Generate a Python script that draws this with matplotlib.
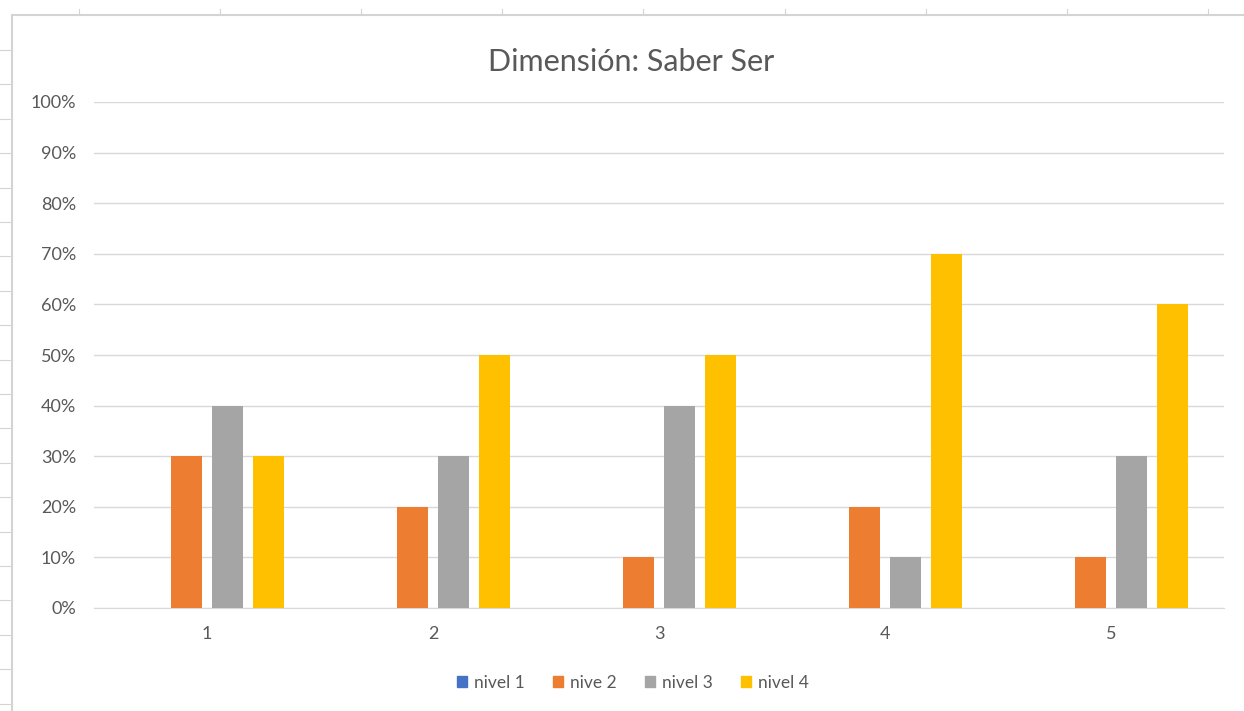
import numpy as np
import matplotlib.pyplot as plt
from matplotlib.patches import Patch

plt.rcParams['font.family'] = ['Lato', 'DejaVu Sans']

categories = ["1", "2", "3", "4", "5"]
series = ["nivel 1", "nive 2", "nivel 3", "nivel 4"]
nivel1 = [0.0, 0.0, 0.0, 0.0, 0.0]
nivel2 = [0.30, 0.20, 0.10, 0.20, 0.10]
nivel3 = [0.40, 0.30, 0.40, 0.10, 0.30]
nivel4 = [0.30, 0.50, 0.50, 0.70, 0.60]
colors = ["#4472C4", "#ED7D31", "#A5A5A5", "#FFC000"]

W, H = 1244, 711
fig = plt.figure(figsize=(W / 100, H / 100), dpi=100)

# sheet frame behind the chart (pixel coords)
bg = fig.add_axes([0, 0, 1, 1])
bg.set_xlim(0, W)
bg.set_ylim(H, 0)
bg.axis("off")
bg.plot([12, W], [15, 15], color="#D4D4D4", lw=1.5)
bg.plot([12, 12], [15, H], color="#D4D4D4", lw=1.5)
for x in np.arange(79, W, 141.1):
    bg.plot([x, x], [9, 15], color="#D4D4D4", lw=0.8)
for y in np.arange(50, H, 34.4):
    bg.plot([0, 12], [y, y], color="#D4D4D4", lw=0.8)

left, right = 94 / W, 1224 / W
bottom, top = (H - 608) / H, (H - 102) / H
ax = fig.add_axes([left, bottom, right - left, top - bottom])
ax.patch.set_alpha(0)

x = np.arange(1, len(categories) + 1)
width = 31 / 226
step = 41 / 226
data = [nivel1, nivel2, nivel3, nivel4]
for i, (vals, c) in enumerate(zip(data, colors)):
    ax.bar(x + (i - 1.5) * step, vals, width=width, color=c, zorder=3)

ax.set_xlim(0.5, 5.5)
ax.set_ylim(0, 1)
ax.set_yticks(np.linspace(0, 1, 11))
ax.set_yticklabels([f"{int(v)}%" for v in np.linspace(0, 100, 11)])
ax.set_xticks(x)
ax.set_xticklabels(categories)
ax.tick_params(axis="both", length=0, labelsize=13, colors="#595959")
ax.tick_params(axis="y", pad=13)
ax.tick_params(axis="x", pad=13)
ax.grid(axis="y", color="#D9D9D9", lw=1, zorder=0)
for s in ["top", "right", "left"]:
    ax.spines[s].set_visible(False)
ax.spines["bottom"].set_color("#D9D9D9")

fig.text(631 / W, 1 - 62 / H, "Dimensión: Saber Ser", ha="center", va="center",
         fontsize=22, color="#595959")

handles = [Patch(facecolor=c, edgecolor=c) for c in colors]
fig.legend(handles, series, loc="center", bbox_to_anchor=(633 / W, 1 - 683 / H),
           ncol=4, frameon=False, fontsize=12.5, handlelength=0.6, handleheight=0.6,
           handletextpad=0.4, columnspacing=1.6, labelcolor="#595959")

fig.savefig("out.png", dpi=100)
